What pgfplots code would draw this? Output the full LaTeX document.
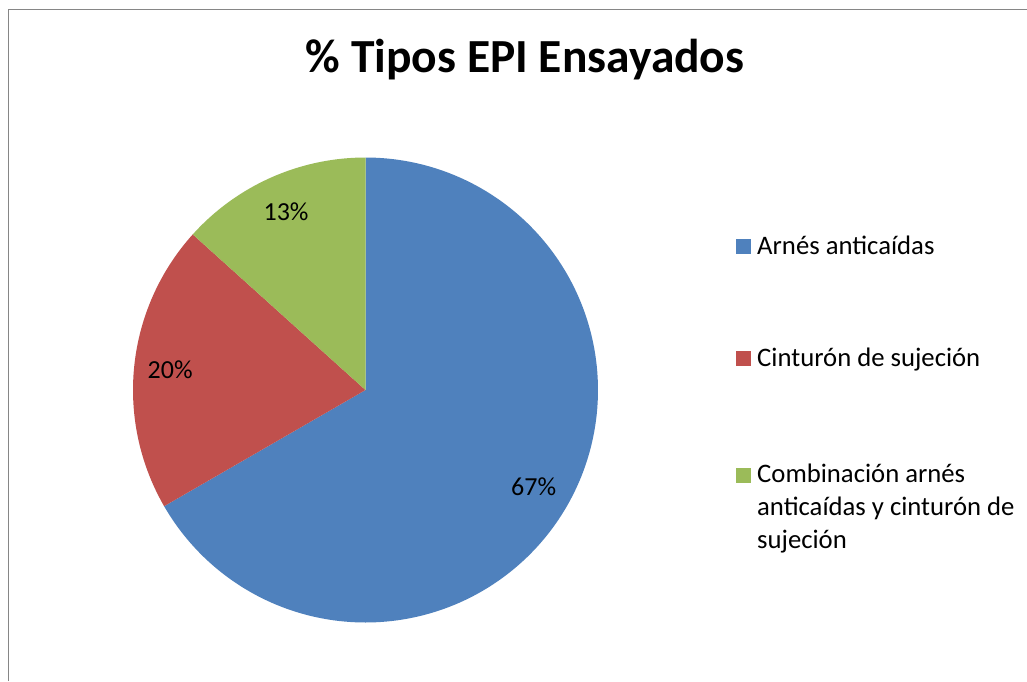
\documentclass[border=0pt]{standalone}
\usepackage{pgfplots}
\pgfplotsset{compat=1.18}
\usepackage{pgfplotstable}
\usepgfplotslibrary{polar}
\usepackage{fontspec}
\setmainfont{Carlito}
\definecolor{cblue}{HTML}{4F81BD}
\definecolor{cred}{HTML}{C0504D}
\definecolor{cgreen}{HTML}{9BBB59}
\definecolor{frame}{RGB}{134,134,134}

\pgfplotstableread{
label value
Arnes 66.67
Cinturon 20.00
Combinacion 13.33
}\datatable
\pgfplotstablegetelem{0}{value}\of\datatable \let\va\pgfplotsretval
\pgfplotstablegetelem{1}{value}\of\datatable \let\vb\pgfplotsretval
\pgfplotstablegetelem{2}{value}\of\datatable \let\vc\pgfplotsretval
\pgfmathsetmacro{\aA}{90}
\pgfmathsetmacro{\aB}{\aA-3.6*\va}
\pgfmathsetmacro{\aC}{\aB-3.6*\vb}
\pgfmathsetmacro{\aD}{\aC-3.6*\vc}
\pgfmathsetmacro{\mA}{(\aA+\aB)/2}
\pgfmathsetmacro{\mB}{(\aB+\aC)/2}
\pgfmathsetmacro{\mC}{(\aC+\aD)/2}

\begin{document}
\begin{tikzpicture}[x=1pt,y=1pt]
\useasboundingbox (0,0) rectangle (1027,681);
\fill[white] (0,0) rectangle (1027,681);
\draw[frame, line width=1.8pt] (8.5,0) -- (8.5,671.5) -- (1027,671.5);
\node[anchor=base, font=\fontsize{47.5}{56}\selectfont\bfseries] at (525,608) {\% Tipos EPI Ensayados};
\begin{polaraxis}[
  at={(365.5pt,291pt)}, anchor=center,
  width=465pt, height=465pt, scale only axis,
  ymin=0, ymax=1, hide axis, clip=false,
  legend image code/.code={\fill[#1,draw=none] (0pt,0pt) rectangle (15pt,15pt);},
  legend cell align=left,
  legend style={
    at={({(736-133)/465},{(623-236)/465})}, anchor=north west,
    draw=none, fill=none, inner sep=0pt,
    font=\fontsize{26.7}{33}\selectfont,
    row sep=92pt, column sep=0pt,
    nodes={inner sep=0pt, inner xsep=6pt, anchor=base west},
  },
]
\addplot[fill=cblue, draw=none, domain=\aA:\aB, samples=181] {1} -- (axis cs:0,0) -- cycle;
\addlegendentry{Arnés anticaídas}
\addplot[fill=cred, draw=none, domain=\aB:\aC, samples=61] {1} -- (axis cs:0,0) -- cycle;
\addlegendentry{Cinturón de sujeción}
\addplot[fill=cgreen, draw=none, domain=\aC:\aD, samples=41] {1} -- (axis cs:0,0) -- cycle;
\addlegendentry{\begin{tabular}[t]{@{}l@{}}Combinación arnés\\anticaídas y cinturón de\\sujeción\end{tabular}}
\node[font=\fontsize{26}{31}\selectfont] at (axis cs:\mA,0.835) {67\%};
\node[font=\fontsize{26}{31}\selectfont] at (axis cs:\mB,0.845) {20\%};
\node[font=\fontsize{26}{31}\selectfont] at (axis cs:\mC,0.84) {13\%};
\end{polaraxis}
\end{tikzpicture}
\end{document}
